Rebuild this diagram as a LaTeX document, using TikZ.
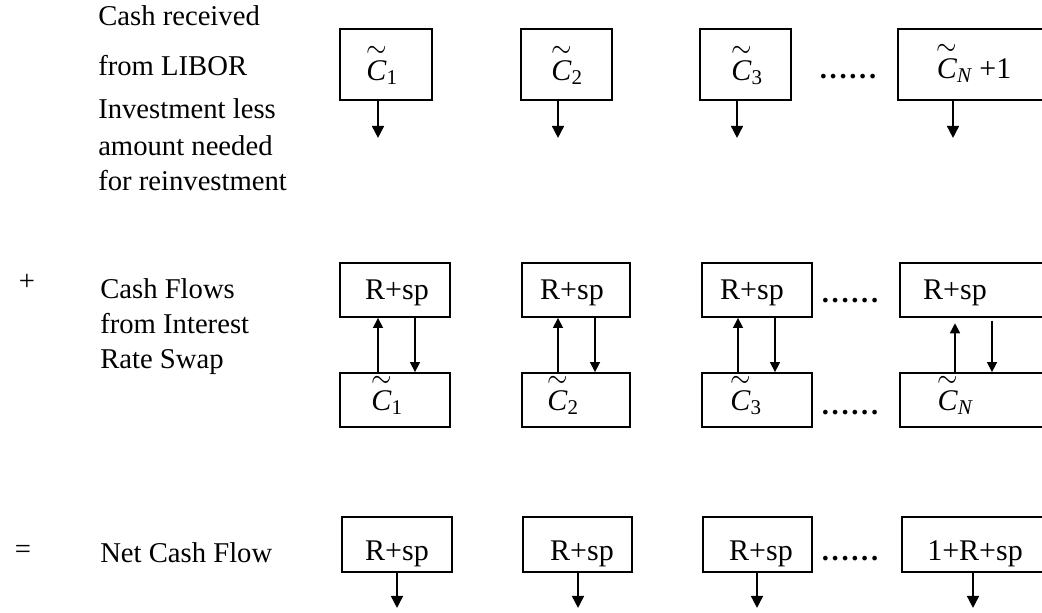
\documentclass[tikz,border=0pt]{standalone}
\usepackage{amsmath}
\usepackage{graphicx}
\usepackage{fontspec}
\setmainfont{Liberation Serif}
\usetikzlibrary{arrows.meta}

% tilde-C symbol in the Times style, wide tilde set just above the letter
\newcommand{\tilC}{\overset{\raisebox{-0.45ex}{\scalebox{0.95}[1.1]{$\sim$}}}{\textit{C}}}
\newcommand{\Ct}[1]{$\tilC_{\text{#1}}$}
\newcommand{\CtN}{$\tilC_{\textit{N}}$}
% heavy ellipsis between the boxes
\newcommand{\sixdots}{\textbf{.\kern2pt.\kern2pt.\kern2pt.\kern2pt.\kern2pt.}}

\begin{document}
\begin{tikzpicture}[x=0.75pt, y=-0.75pt,
  every node/.style={font=\fontsize{21.5pt}{25pt}\selectfont, inner sep=0pt},
  box/.style={draw, line width=1.4pt},
  lbl/.style={anchor=base west},
  val/.style={anchor=base, font=\fontsize{22.5pt}{26pt}\selectfont},
  dots/.style={anchor=base},
  flow/.style={line width=1.2pt, -{Triangle[length=9pt, width=9pt]}},
  swap/.style={line width=1.2pt, -{Triangle[length=7.5pt, width=7.5pt]}}]

\useasboundingbox (0,0) rectangle (1042,612);
\clip (0,0) rectangle (1042,612);

% ---------- row 1: cash from the LIBOR investment ----------
\node[lbl] (l1a) at (98,25)  {Cash received};
\node[lbl] (l1b) at (98,75)  {from LIBOR};
\node[lbl] (l1c) at (98,118) {Investment less};
\node[lbl] (l1d) at (98,155) {amount needed};
\node[lbl] (l1e) at (98,190) {for reinvestment};

\node[box, minimum width=92*0.75pt, minimum height=71*0.75pt] (a1) at (386,64.5) {};
\node[box, minimum width=91*0.75pt, minimum height=71*0.75pt] (a2) at (566.5,64.5) {};
\node[box, minimum width=91*0.75pt, minimum height=71*0.75pt] (a3) at (745.5,64.5) {};
\node[box, minimum width=152*0.75pt, minimum height=71*0.75pt] (a4) at (974,64.5) {};

\node[val] (ta1) at (382,80) {\Ct{1}};
\node[val] (ta2) at (567,80) {\Ct{2}};
\node[val] (ta3) at (747,80) {\Ct{3}};
\node[val] (ta4) at (974,78) {\CtN\ +1};
\node[dots] (da) at (848,78) {\sixdots};

\draw[flow] (a1.south -| 378,0) -- ++(0,37);
\draw[flow] (a2.south -| 558,0) -- ++(0,37);
\draw[flow] (a3.south -| 737,0) -- ++(0,37);
\draw[flow] (a4.south -| 953,0) -- ++(0,37);

% ---------- row 2: the interest rate swap ----------
\node (plus) at (27,282) {+};
\node[lbl] (l2a) at (100,298) {Cash Flows};
\node[lbl] (l2b) at (100,333) {from Interest};
\node[lbl] (l2c) at (100,368) {Rate Swap};

\node[box, minimum width=110*0.75pt, minimum height=54*0.75pt] (b1) at (395,290) {};
\node[box, minimum width=108*0.75pt, minimum height=54*0.75pt] (b2) at (576,290) {};
\node[box, minimum width=110*0.75pt, minimum height=54*0.75pt] (b3) at (757,290) {};
\node[box, minimum width=150*0.75pt, minimum height=54*0.75pt] (b4) at (975,290) {};

\node[box, minimum width=110*0.75pt, minimum height=54*0.75pt] (c1) at (395,400) {};
\node[box, minimum width=108*0.75pt, minimum height=54*0.75pt] (c2) at (576,400) {};
\node[box, minimum width=110*0.75pt, minimum height=54*0.75pt] (c3) at (757,400) {};
\node[box, minimum width=150*0.75pt, minimum height=54*0.75pt] (c4) at (975,400) {};

\node[val] (tb1) at (397,299) {R+sp};
\node[val] (tb2) at (572,299) {R+sp};
\node[val] (tb3) at (752,299) {R+sp};
\node[val] (tb4) at (955,299) {R+sp};
\node[dots] (db) at (850,302) {\sixdots};

\node[val] (tc1) at (387,410) {\Ct{1}};
\node[val] (tc2) at (563,410) {\Ct{2}};
\node[val] (tc3) at (746,410) {\Ct{3}};
\node[val] (tc4) at (955,410) {\CtN};
\node[dots] (dc) at (850,414) {\sixdots};

\draw[swap] (c1.north -| 378,0) -- (b1.south -| 378,0);
\draw[swap] (b1.south -| 415,0) -- (c1.north -| 415,0);
\draw[swap] (c2.north -| 558,0) -- (b2.south -| 558,0);
\draw[swap] (b2.south -| 595,0) -- (c2.north -| 595,0);
\draw[swap] (c3.north -| 738,0) -- (b3.south -| 738,0);
\draw[swap] (b3.south -| 775,0) -- (c3.north -| 775,0);
\draw[swap, shorten >=4pt] (c4.north -| 955,0) -- (b4.south -| 955,0);
\draw[swap, shorten <=2pt] (b4.south -| 992,0) -- (c4.north -| 992,0);

% ---------- row 3: net cash flow ----------
\node (eq) at (23,552) {=};
\node[lbl] (l3) at (100,562) {Net Cash Flow};

\node[box, minimum width=110*0.75pt, minimum height=55*0.75pt] (e1) at (397,544.5) {};
\node[box, minimum width=109*0.75pt, minimum height=55*0.75pt] (e2) at (577.5,544.5) {};
\node[box, minimum width=109*0.75pt, minimum height=55*0.75pt] (e3) at (757.5,544.5) {};
\node[box, minimum width=148*0.75pt, minimum height=55*0.75pt] (e4) at (976,544.5) {};

\node[val] (te1) at (397,560) {R+sp};
\node[val] (te2) at (582,560) {R+sp};
\node[val] (te3) at (761,560) {R+sp};
\node[val] (te4) at (975,560) {1+R+sp};
\node[dots] (de) at (850,560) {\sixdots};

\draw[flow] (e1.south -| 397,0) -- ++(0,35);
\draw[flow] (e2.south -| 578,0) -- ++(0,35);
\draw[flow] (e3.south -| 757,0) -- ++(0,35);
\draw[flow] (e4.south -| 973,0) -- ++(0,35);
\end{tikzpicture}
\end{document}
